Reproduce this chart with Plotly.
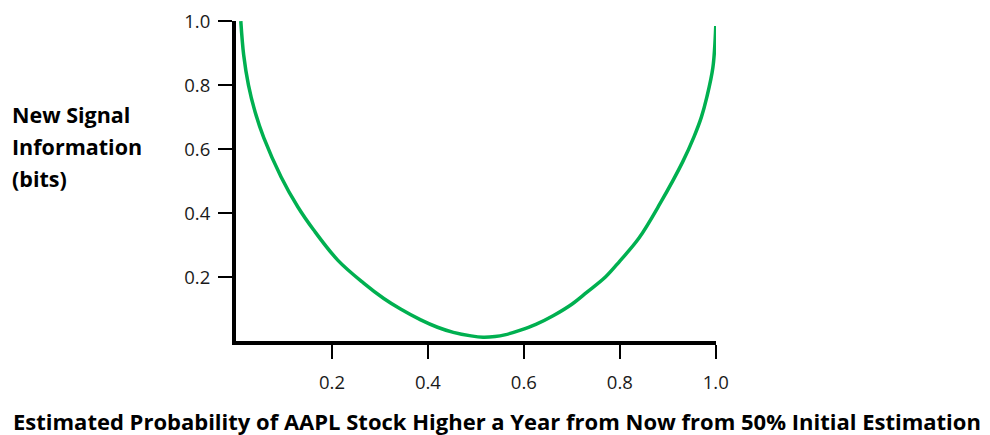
import plotly.graph_objects as go

# Values
prob = [0.010, 0.016, 0.026, 0.040, 0.058, 0.094, 0.129, 0.162, 0.212, 0.266,
        0.308, 0.343, 0.385, 0.420, 0.453, 0.490, 0.515, 0.540, 0.560, 0.593,
        0.625, 0.661, 0.700, 0.731, 0.770, 0.800, 0.840, 0.884, 0.931, 0.955,
        0.970, 0.981, 0.994, 1.0]
info_bits = [1.0, 0.894, 0.80, 0.715, 0.635, 0.513, 0.419, 0.347, 0.253, 0.181,
             0.133, 0.100, 0.066, 0.043, 0.027, 0.016, 0.012, 0.014, 0.019, 0.034,
             0.052, 0.079, 0.115, 0.152, 0.200, 0.250, 0.322, 0.430, 0.560, 0.640,
             0.700, 0.760, 0.855, 0.985]

tick_vals = [0.2, 0.4, 0.6, 0.8, 1.0]
tick_text = ["0.2", "0.4", "0.6", "0.8", "1.0"]

x_title = "Estimated Probability of AAPL Stock Higher a Year from Now from 50% Initial Estimation"
y_title_lines = ["New Signal", "Information", "(bits)"]

FONT = "Open Sans, Lato, sans-serif"

fig = go.Figure()
fig.add_trace(go.Scatter(
    x=prob, y=info_bits, mode="lines",
    line=dict(color="#00B050", width=3.5, shape="spline", smoothing=1.0),
    hoverinfo="skip", showlegend=False, cliponaxis=False,
))

# page offset of 8px (body margin) compensated
OFF = 8
W, H = 990 - OFF, 435 - OFF
L, R, T, B = 236 - OFF, 716 - OFF, 21 - OFF, 341 - OFF

axis_common = dict(
    showgrid=False, zeroline=False, showline=True, linecolor="black", linewidth=4,
    ticks="outside", ticklen=14, tickwidth=2, tickcolor="black",
    tickvals=tick_vals, ticktext=tick_text, automargin=False,
    ticklabeloverflow="allow",
    tickfont=dict(family=FONT, size=18.5, color="#1a1a1a"),
)

fig.update_layout(
    width=W, height=H,
    margin=dict(l=L, r=W - R, t=T, b=H - B, autoexpand=False),
    plot_bgcolor="white", paper_bgcolor="white",
    xaxis=dict(range=[0, 1.0005], ticklabelstandoff=8, **axis_common),
    yaxis=dict(range=[0, 1.0005], ticklabelstandoff=4, **axis_common),
    font=dict(family=FONT, color="black"),
)

plot_w = R - L
plot_h = B - T

fig.add_annotation(
    text="<b>" + x_title + "</b>",
    xref="paper", yref="paper",
    x=(497 - OFF - L) / plot_w, y=(B - (421 - OFF)) / plot_h,
    xanchor="center", yanchor="middle", showarrow=False,
    font=dict(family=FONT, size=22, color="black"),
)

for i, line in enumerate(y_title_lines):
    yc = 115 + i * 31.5 - OFF
    fig.add_annotation(
        text="<b>" + line + "</b>",
        xref="paper", yref="paper",
        x=(10 - OFF - L) / plot_w, y=(B - yc) / plot_h,
        xanchor="left", yanchor="middle", showarrow=False,
        font=dict(family=FONT, size=21.5, color="black"),
    )

fig.write_html("out.html")
